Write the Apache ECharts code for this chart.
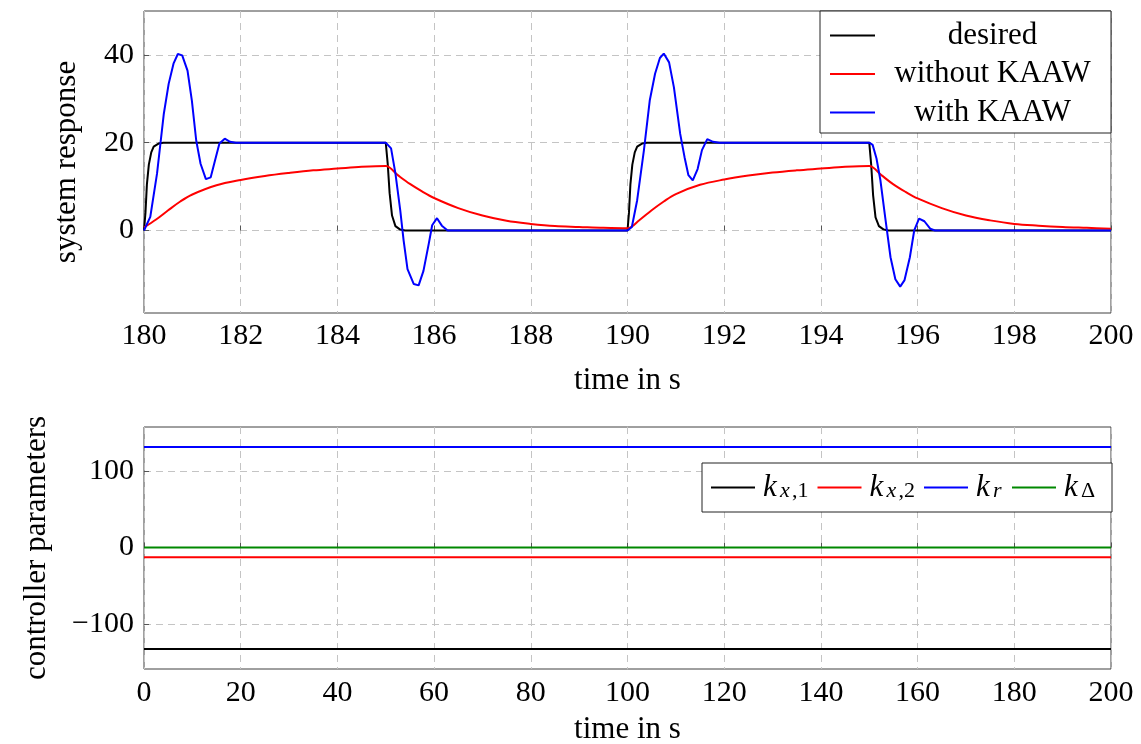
<!DOCTYPE html>
<html>
<head>
<meta charset="utf-8">
<script src="https://cdn.jsdelivr.net/npm/echarts@6/dist/echarts.min.js"></script>
<style>
  html, body { margin: 0; padding: 0; background: #fff; }
  #chart { width: 1141px; height: 744px; }
</style>
</head>
<body>
<div id="chart"></div>
<script>
// ---- system response (time in s, value) ----
const desiredT = [180, 180.03, 180.06, 180.1, 180.15, 180.2, 180.3, 180.4,
  185, 185.04, 185.08, 185.13, 185.2, 185.3, 185.4,
  190, 190.03, 190.06, 190.1, 190.15, 190.2, 190.3, 190.4,
  195, 195.04, 195.08, 195.13, 195.2, 195.3, 195.4, 200];
const desiredV = [0, 4, 10.5, 15, 17.8, 19.1, 19.8, 20,
  20, 15.3, 8.5, 3.4, 1, 0.2, 0,
  0, 4, 10.5, 15, 17.8, 19.1, 19.8, 20,
  20, 15, 8, 3, 1, 0.2, 0, 0];

const withoutT = [180, 180.25, 180.5, 180.75, 181, 181.5, 182, 182.5, 183, 183.5, 184, 184.5, 185,
  185.25, 185.5, 185.75, 186, 186.5, 187, 187.5, 188, 188.5, 189, 189.5, 190,
  190.25, 190.5, 190.75, 191, 191.5, 192, 192.5, 193, 193.5, 194, 194.5, 195,
  195.25, 195.5, 195.75, 196, 196.5, 197, 197.5, 198, 198.5, 199, 199.5, 200];
const withoutV = [0.7, 2.5, 4.6, 6.6, 8.2, 10.3, 11.5, 12.4, 13.1, 13.7, 14.1, 14.5, 14.7,
  12.6, 10.6, 8.9, 7.4, 5.1, 3.4, 2.2, 1.5, 1.0, 0.8, 0.6, 0.5,
  2.4, 4.6, 6.6, 8.3, 10.4, 11.6, 12.5, 13.2, 13.7, 14.1, 14.5, 14.7,
  12.6, 10.5, 8.8, 7.3, 5.1, 3.4, 2.3, 1.5, 1.1, 0.8, 0.6, 0.4];

const withT = [180, 180.13, 180.27, 180.41, 180.51, 180.61, 180.70, 180.79, 180.9, 180.99,
  181.08, 181.17, 181.28, 181.38, 181.47, 181.56, 181.67, 181.78, 181.9,
  185, 185.11, 185.2, 185.3, 185.37, 185.45, 185.58, 185.68, 185.78, 185.89, 185.96,
  186.06, 186.16, 186.28,
  190, 190.09, 190.2, 190.34, 190.46, 190.57, 190.67, 190.75, 190.86, 190.96,
  191.09, 191.18, 191.26, 191.35, 191.45, 191.54, 191.65, 191.77, 191.9,
  195, 195.07, 195.15, 195.23, 195.33, 195.44, 195.54, 195.64, 195.73, 195.84, 195.93,
  196.03, 196.14, 196.26, 196.36, 200];
const withV = [0, 3.1, 13, 26.6, 33.4, 38, 40.2, 39.9, 36.4, 29.6,
  20.5, 15.2, 11.7, 12.1, 16, 19.8, 20.9, 20.2, 20,
  20, 18.7, 13, 4.6, -2.3, -8.8, -12.2, -12.5, -9.2, -3, 1.2,
  2.8, 1.1, 0,
  0, 0.8, 6.9, 18.3, 29.6, 35.7, 39.3, 40.3, 38.3, 32.6,
  22, 16.7, 12.6, 11.4, 14, 18.3, 20.8, 20.2, 20,
  20, 19.5, 16.4, 11.5, 3, -6.1, -11.1, -12.8, -11.3, -6.1, 0,
  2.7, 2.1, 0.4, 0, 0];

// ---- controller parameters ----
const paramT = [0, 200];
const kx1 = [-132, -132];
const kx2 = [-12.5, -12.5];
const kr = [131, 131];
const kDelta = [0, 0];

// ---- tick labels ----
const responseTicks = [0, 20, 40];
const paramTicks = [-100, 0, 100];

const FONT = 'Liberation Serif';
const pairs = (t, v) => t.map((x, i) => [x, v[i]]);
const minus = v => String(v).replace('-', '\u2212');

const gridLine = { show: true, lineStyle: { color: '#c4c4c4', type: [7, 5], width: 1 } };
const tick = { show: true, inside: true, length: 5, lineStyle: { color: '#555' } };
const labelStyle = { fontFamily: FONT, fontSize: 30, color: '#000' };
const nameStyle = { fontFamily: FONT, fontSize: 31, color: '#000' };

function line(name, data, color, xi, extra) {
  return Object.assign({
    name: name, type: 'line', data: data, xAxisIndex: xi, yAxisIndex: xi,
    symbol: 'none', lineStyle: { color: color, width: 2 }, itemStyle: { color: color },
    animation: false, silent: true
  }, extra || {});
}

// legend labels for the controller gains: italic k with subscript
const subs = {
  kx1: '{k|k}{si|x}{su|,1}',
  kx2: '{k|k}{si|x}{su|,2}',
  kr: '{k|k}{sr|r}',
  kd: '{k|k}{sd|\u0394}'
};
const subBase = { fontFamily: FONT, fontSize: 22, lineHeight: 18, verticalAlign: 'bottom', color: '#000', align: 'left' };

const chart = echarts.init(document.getElementById('chart'), null, { renderer: 'canvas' });
chart.setOption({
  animation: false,
  backgroundColor: '#fff',
  grid: [
    { left: 144, right: 30, top: 11, height: 302, show: true, borderColor: '#404040', borderWidth: 1,
      outerBoundsMode: 'none' },
    { left: 144, right: 30, top: 427, height: 242, show: true, borderColor: '#404040', borderWidth: 1,
      outerBoundsMode: 'none' }
  ],
  xAxis: [
    { gridIndex: 0, type: 'value', min: 180, max: 200, interval: 2,
      name: 'time in s', nameLocation: 'middle', nameGap: 52, nameTextStyle: nameStyle,
      axisLine: { show: false }, axisTick: tick, splitLine: gridLine,
      axisLabel: Object.assign({ margin: 8 }, labelStyle) },
    { gridIndex: 1, type: 'value', min: 0, max: 200, interval: 20,
      name: 'time in s', nameLocation: 'middle', nameGap: 45, nameTextStyle: nameStyle,
      axisLine: { show: false }, axisTick: tick, splitLine: gridLine,
      axisLabel: Object.assign({ margin: 9 }, labelStyle) }
  ],
  yAxis: [
    { gridIndex: 0, type: 'value', min: -18.8, max: 50,
      name: 'system response', nameLocation: 'middle', nameGap: 62, nameTextStyle: nameStyle,
      axisLine: { show: false },
      axisTick: Object.assign({ customValues: responseTicks }, tick),
      splitLine: gridLine,
      axisLabel: Object.assign({ margin: 10, customValues: responseTicks, formatter: minus }, labelStyle) },
    { gridIndex: 1, type: 'value', min: -158, max: 157,
      name: 'controller parameters', nameLocation: 'middle', nameGap: 92, nameTextStyle: nameStyle,
      axisLine: { show: false },
      axisTick: Object.assign({ customValues: paramTicks }, tick),
      splitLine: gridLine,
      axisLabel: Object.assign({ margin: 10, customValues: paramTicks, formatter: minus }, labelStyle) }
  ],
  legend: [
    { data: ['desired', 'without KAAW', 'with KAAW'],
      orient: 'vertical', left: 820, top: 11,
      padding: [9, 6, 5, 10], itemGap: 7.5, itemWidth: 45, itemHeight: 2,
      icon: 'rect',
      backgroundColor: '#fff', borderColor: '#222', borderWidth: 1, borderRadius: 0,
      selectedMode: false,
      formatter: n => '{c|' + n + '}',
      textStyle: { fontFamily: FONT, fontSize: 31, lineHeight: 30, color: '#000',
        rich: { c: { width: 225, align: 'center', fontFamily: FONT, fontSize: 31, lineHeight: 30, color: '#000' } } } },
    { data: ['kx1', 'kx2', 'kr', 'kd'],
      orient: 'horizontal', left: 702, top: 463,
      padding: [9, 14, 9, 9], itemGap: 9, itemWidth: 44, itemHeight: 2,
      icon: 'rect',
      backgroundColor: '#fff', borderColor: '#222', borderWidth: 1, borderRadius: 0,
      selectedMode: false,
      formatter: n => subs[n],
      textStyle: { fontFamily: FONT, fontSize: 30, color: '#000',
        rich: {
          k: { fontFamily: FONT, fontStyle: 'italic', fontSize: 31, lineHeight: 30, width: 17, align: 'left',
               padding: [0, 0, 0, 3], color: '#000' },
          si: Object.assign({ fontStyle: 'italic', width: 12 }, subBase),
          su: Object.assign({ width: 14 }, subBase),
          sr: Object.assign({ fontStyle: 'italic', width: 10 }, subBase),
          sd: Object.assign({ width: 17 }, subBase)
        } } }
  ],
  series: [
    line('desired', pairs(desiredT, desiredV), '#000000', 0),
    line('without KAAW', pairs(withoutT, withoutV), '#ff0000', 0, { smooth: 0.35 }),
    line('with KAAW', pairs(withT, withV), '#0000ff', 0),
    line('kx1', pairs(paramT, kx1), '#000000', 1),
    line('kx2', pairs(paramT, kx2), '#ff0000', 1),
    line('kr', pairs(paramT, kr), '#0000ff', 1),
    line('kd', pairs(paramT, kDelta), '#008800', 1)
  ]
});
</script>
</body>
</html>
